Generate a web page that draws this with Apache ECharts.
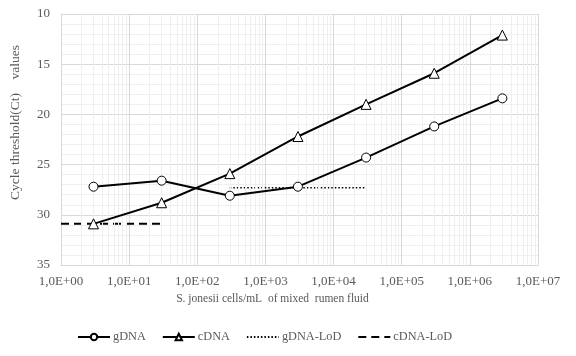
<!DOCTYPE html>
<html>
<head>
<meta charset="utf-8">
<script src="https://cdn.jsdelivr.net/npm/echarts@6/dist/echarts.min.js"></script>
<style>
html, body { margin: 0; padding: 0; background: #fff; }
#container { width: 576px; height: 356px; }
</style>
</head>
<body>
<div id="container"></div>
<script>
// cells/mL (log scale)
var cells = [3, 30, 300, 3000, 30000, 300000, 3000000];
var gDNA = [27.2, 26.6, 28.1, 27.2, 24.3, 21.2, 18.4];
var cDNA = [30.9, 28.8, 25.9, 22.2, 19.0, 15.9, 12.1];
var gLodX = [300, 30000];
var gLodY = [27.3, 27.3];
var cLodX = [1, 30];
var cLodY = [30.9, 30.9];
var minorX = [];
for (var e = 0; e < 7; e++) {
    for (var k = 2; k <= 9; k++) minorX.push(k * Math.pow(10, e));
}

function pairs(xs, ys) {
    return xs.map(function (x, i) { return [x, ys[i]]; });
}

var font = 'Liberation Serif';
var txt = '#595959';
var myChart = echarts.init(document.getElementById('container'));
var option = {
    backgroundColor: '#ffffff',
    textStyle: {fontFamily: font},
    animation: false,
    grid: {left: 60, right: 38, top: 14, bottom: 91},
    legend: {
        bottom: 8,
        left: 72,
        itemWidth: 32,
        itemHeight: 8,
        itemGap: 16,
        textStyle: {fontFamily: font, fontSize: 12.3, color: txt, padding: [0, 0, 0, -2]},
        data: [
            {name: 'gDNA'},
            {name: 'cDNA'},
            {name: 'gDNA-LoD', itemStyle: {opacity: 0}},
            {name: 'cDNA-LoD', itemStyle: {opacity: 0}}
        ]
    },
    xAxis: {
        type: 'log',
        logBase: 10,
        min: 1,
        max: 10000000,
        position: 'bottom',
        name: 'S. jonesii cells/mL  of mixed  rumen fluid',
        nameLocation: 'middle',
        nameGap: 27,
        nameTextStyle: {fontFamily: font, fontSize: 11.5, color: txt, padding: [0, 54, 0, 0]},
        axisLine: {onZero: false, lineStyle: {color: '#d9d9d9'}},
        axisTick: {show: false},
        axisLabel: {
            fontFamily: font, fontSize: 13, color: txt, margin: 10,
            formatter: function (v) {
                var p = Math.round(Math.log10(v));
                return '1,0E+' + (p < 10 ? '0' + p : p);
            }
        },
        splitLine: {show: true, lineStyle: {color: '#d9d9d9'}}
    },
    yAxis: {
        type: 'value',
        inverse: true,
        min: 10,
        max: 35,
        interval: 5,
        name: 'Cycle threshold(Ct)    values',
        nameLocation: 'middle',
        nameGap: 39,
        nameTextStyle: {fontFamily: font, fontSize: 13.5, color: txt, padding: [0, 0, 0, 34]},
        axisLine: {show: true, lineStyle: {color: '#d9d9d9'}},
        axisTick: {show: false},
        axisLabel: {fontFamily: font, fontSize: 13, color: txt, margin: 11},
        splitLine: {lineStyle: {color: '#d9d9d9'}},
        minorTick: {show: false, splitNumber: 5},
        minorSplitLine: {show: true, lineStyle: {color: '#efefef'}}
    },
    series: [{
        name: 'minor',
        type: 'line',
        data: [],
        silent: true,
        markLine: {
            silent: true,
            symbol: 'none',
            label: {show: false},
            lineStyle: {color: '#efefef', type: 'solid', width: 1},
            data: minorX.map(function (x) { return {xAxis: x}; })
        }
    }, {
        name: 'gDNA-LoD',
        type: 'line',
        data: pairs(gLodX, gLodY),
        symbol: 'none',
        itemStyle: {color: '#000'},
        lineStyle: {color: '#000', width: 1.5, type: [1.5, 2]}
    }, {
        name: 'cDNA-LoD',
        type: 'line',
        data: pairs(cLodX, cLodY),
        symbol: 'none',
        itemStyle: {color: '#000'},
        lineStyle: {color: '#000', width: 2, type: [8, 5]}
    }, {
        name: 'gDNA',
        type: 'line',
        data: pairs(cells, gDNA),
        symbol: 'circle',
        symbolSize: 9,
        itemStyle: {color: '#fff', borderColor: '#000', borderWidth: 1},
        lineStyle: {color: '#000', width: 2},
        z: 5
    }, {
        name: 'cDNA',
        type: 'line',
        data: pairs(cells, cDNA),
        symbol: 'triangle',
        symbolSize: 10,
        itemStyle: {color: '#fff', borderColor: '#000', borderWidth: 1},
        lineStyle: {color: '#000', width: 2},
        z: 5
    }]
};
myChart.setOption(option);
</script>
</body>
</html>
